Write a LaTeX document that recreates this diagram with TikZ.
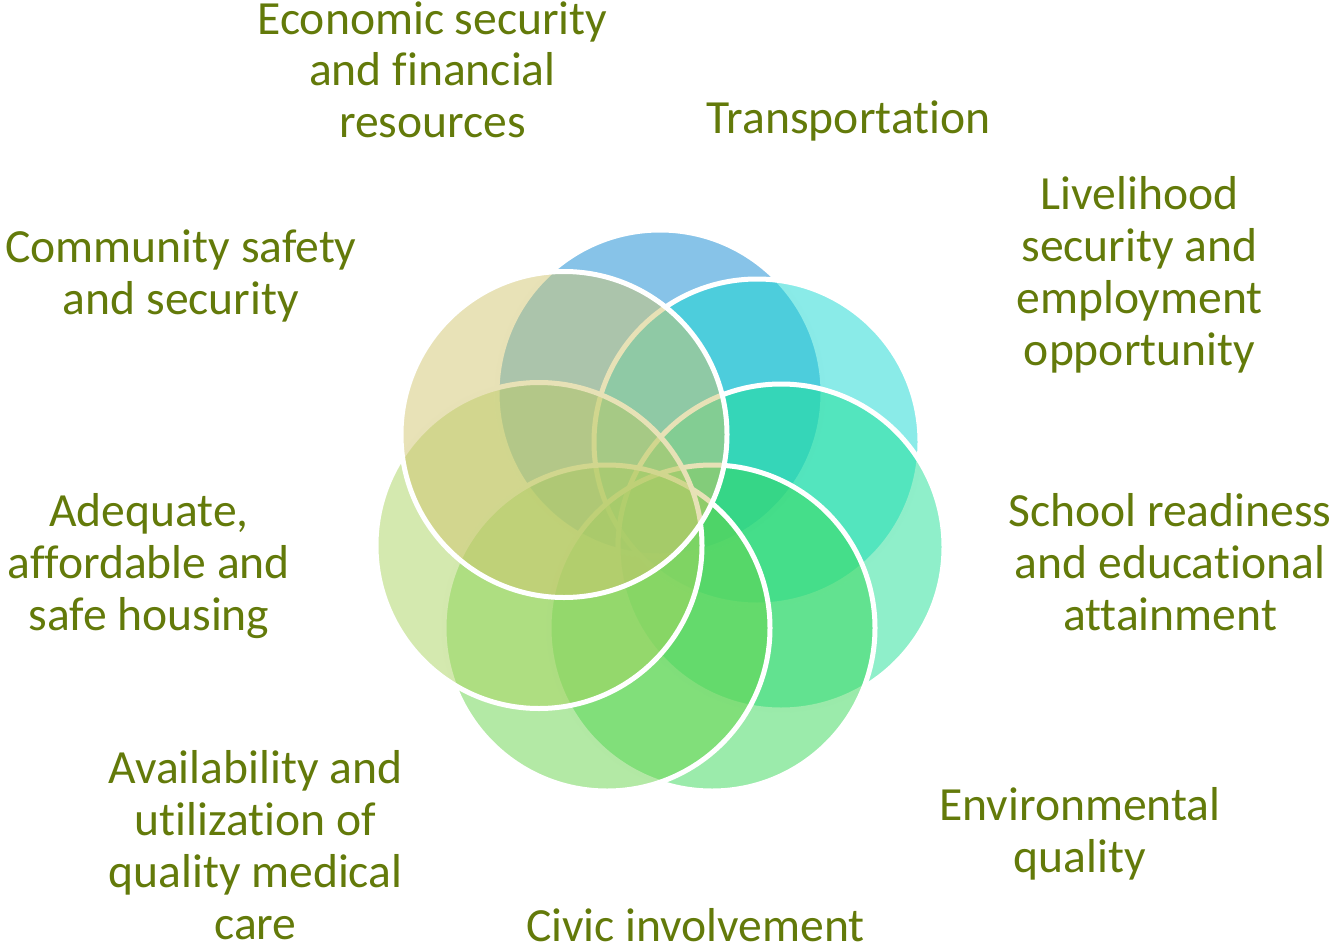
\documentclass[tikz,border=0pt]{standalone}
\usepackage{fontspec}
\setmainfont{Carlito}[Ligatures=NoCommon]
\definecolor{labeltxt}{RGB}{99,122,10}
\definecolor{cBlue}{RGB}{15,135,209}
\definecolor{cCyan}{RGB}{21,215,209}
\definecolor{cMint}{RGB}{31,223,149}
\definecolor{cGreen}{RGB}{55,215,87}
\definecolor{cLight}{RGB}{103,211,75}
\definecolor{cYellow}{RGB}{169,211,95}
\definecolor{cTan}{RGB}{209,197,111}
\begin{document}
\begin{tikzpicture}[x=1pt,y=-1pt,
  venn/.style={fill opacity=0.5, draw=white, draw opacity=1, line width=5pt},
  lbl/.style={text=labeltxt, font=\fontsize{47.6}{52}\selectfont, align=center, inner sep=0pt, anchor=base}]
\useasboundingbox (0,0) rectangle (1335,947);
% circles, drawn bottom to top
\path[venn, fill=cBlue]   (660,393)   circle[radius=163pt];
\path[venn, fill=cCyan]   (757,442)   circle[radius=163pt];
\path[venn, fill=cMint]   (781,547)   circle[radius=163pt];
\path[venn, fill=cGreen]  (712,628)   circle[radius=163pt];
\path[venn, fill=cLight]  (607,628)   circle[radius=163pt];
\path[venn, fill=cYellow] (539,545.5) circle[radius=163pt];
\path[venn, fill=cTan]    (564,434.5) circle[radius=163pt];
% labels (anchor = baseline of the last line)
\node[lbl] (econ)  at (432.5,138)  {Economic security\\and financial\\resources};
\node[lbl] (trans) at (848.5,134) {Transportation};
\node[lbl] (live)  at (1139.5,365) {Livelihood\\security and\\employment\\opportunity};
\node[lbl] (school) at (1170,630) {School readiness\\and educational\\attainment};
\node[lbl] (env)   at (1080,872) {Environmental\\quality};
\node[lbl] (civic) at (695.5,941) {Civic involvement};
\node[lbl] (avail) at (255.5,939) {Availability and\\utilization of\\quality medical\\care};
\node[lbl] (adeq)  at (149,630) {Adequate,\\affordable and\\safe housing};
\node[lbl] (comm)  at (181,314) {Community safety\\and security};
\end{tikzpicture}
\end{document}
